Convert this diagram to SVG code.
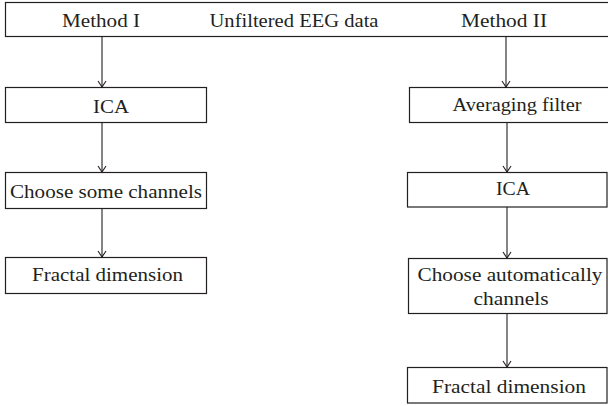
<svg xmlns="http://www.w3.org/2000/svg" width="608" height="406" viewBox="0 0 608 406">
<defs>
<marker id="arr" markerWidth="8" markerHeight="10" refX="7" refY="5" orient="auto" markerUnits="userSpaceOnUse" viewBox="0 0 8 10">
<path d="M1,1 L7,5 L1,9" fill="none" stroke="#231f20" stroke-width="1.1"/>
</marker>
</defs>
<style>
.box{fill:#fff;stroke:#231f20;stroke-width:1.2}
.t{font-family:"Liberation Serif","Times New Roman",serif;font-size:19px;fill:#231f20;text-anchor:middle}
.c{stroke:#231f20;stroke-width:1.1;fill:none}
</style>
<rect width="608" height="406" fill="#fff"/>
<g id="top">
<rect class="box" x="5.5" y="2.5" width="606" height="34"/>
<text class="t" x="101" y="27" textLength="78" lengthAdjust="spacingAndGlyphs">Method I</text>
<text class="t" x="294" y="27" textLength="169" lengthAdjust="spacingAndGlyphs">Unfiltered EEG data</text>
<text class="t" x="504" y="27" textLength="86" lengthAdjust="spacingAndGlyphs">Method II</text>
</g>
<g id="ica1">
<rect class="box" x="5.5" y="87.5" width="201" height="35"/>
<text class="t" x="111" y="113" textLength="36" lengthAdjust="spacingAndGlyphs">ICA</text>
</g>
<g id="choose1">
<rect class="box" x="5.5" y="172.5" width="201" height="36"/>
<text class="t" x="106" y="198" textLength="192" lengthAdjust="spacingAndGlyphs">Choose some channels</text>
</g>
<g id="fractal1">
<rect class="box" x="5.5" y="257.5" width="201" height="36"/>
<text class="t" x="107.5" y="281" textLength="151" lengthAdjust="spacingAndGlyphs">Fractal dimension</text>
</g>
<g id="avg">
<rect class="box" x="409.5" y="87.5" width="202" height="35"/>
<text class="t" x="517" y="111" textLength="129" lengthAdjust="spacingAndGlyphs">Averaging filter</text>
</g>
<g id="ica2">
<rect class="box" x="407.5" y="172.5" width="199.5" height="34.5"/>
<text class="t" x="513" y="195" textLength="34" lengthAdjust="spacingAndGlyphs">ICA</text>
</g>
<g id="choose2">
<rect class="box" x="408.5" y="258.5" width="198.5" height="55"/>
<text class="t" x="510" y="281" textLength="185" lengthAdjust="spacingAndGlyphs">Choose automatically</text>
<text class="t" x="511" y="305" textLength="75" lengthAdjust="spacingAndGlyphs">channels</text>
</g>
<g id="fractal2">
<rect class="box" x="407.5" y="367.5" width="199.5" height="35.5"/>
<text class="t" x="509" y="393" textLength="154" lengthAdjust="spacingAndGlyphs">Fractal dimension</text>
</g>
<g id="connectors">
<line class="c" x1="102" y1="37" x2="102" y2="87" marker-end="url(#arr)"/>
<line class="c" x1="102" y1="123" x2="102" y2="172" marker-end="url(#arr)"/>
<line class="c" x1="102" y1="209" x2="102" y2="257" marker-end="url(#arr)"/>
<line class="c" x1="506" y1="37" x2="506" y2="87" marker-end="url(#arr)"/>
<line class="c" x1="507" y1="123" x2="507" y2="172" marker-end="url(#arr)"/>
<line class="c" x1="507" y1="207" x2="507" y2="258" marker-end="url(#arr)"/>
<line class="c" x1="507" y1="314" x2="507" y2="367" marker-end="url(#arr)"/>
</g>
</svg>
